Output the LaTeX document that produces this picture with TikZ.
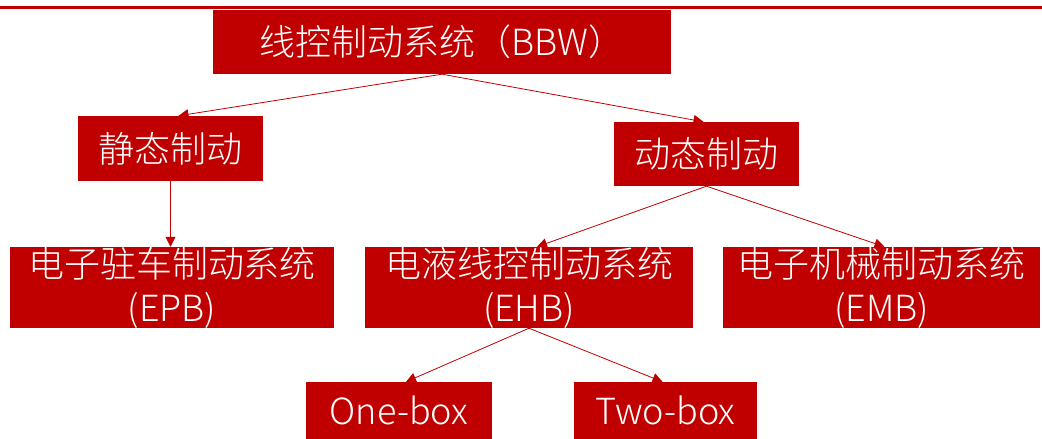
\documentclass[tikz,border=0pt]{standalone}
\usepackage{fontspec}
\setmainfont{Noto Sans CJK SC Light}
\usetikzlibrary{arrows.meta}
\definecolor{bbred}{HTML}{C00000}
\tikzset{
  box/.style={fill=bbred, text=white, inner sep=0pt, align=center,
    font=\fontsize{36}{44}\selectfont},
  conn/.style={draw=bbred, line width=0.8pt,
    -{Triangle[length=10pt,width=10pt]}},
}
\begin{document}
\begin{tikzpicture}[x=1pt,y=-1pt]
\useasboundingbox (0,0) rectangle (1042,439);
\fill[bbred] (0,6) rectangle (1042,9);
\node[box, minimum width=458pt, minimum height=64pt] (bbw) at (442,42) {线控制动系统（BBW）};
\node[box, minimum width=185pt, minimum height=65pt] (jt) at (170.5,148.5) {静态制动};
\node[box, minimum width=185pt, minimum height=64pt] (dt) at (706.5,154) {动态制动};
\node[box, minimum width=324pt, minimum height=79pt] (epb) at (172,287.5) {电子驻车制动系统\\(EPB)};
\node[box, minimum width=328pt, minimum height=79pt] (ehb) at (529,287.5) {电液线控制动系统\\(EHB)};
\node[box, minimum width=317pt, minimum height=79pt] (emb) at (881.5,287.5) {电子机械制动系统\\(EMB)};
\node[box, minimum width=186pt, minimum height=57pt] (one) at (399,410.5) {One-box};
\node[box, minimum width=183pt, minimum height=57pt] (two) at (665.5,410.5) {Two-box};
\draw[conn] (bbw.south) -- ([xshift=8pt]jt.north);
\draw[conn] (bbw.south) -- ([xshift=-3pt]dt.north);
\draw[conn] (jt.south) -- (jt.south |- epb.north);
\draw[conn] (dt.south) -- ([xshift=8pt]ehb.north);
\draw[conn] (dt.south) -- ([xshift=3pt]emb.north);
\draw[conn] (ehb.south) -- ([xshift=7pt]one.north);
\draw[conn] (ehb.south) -- ([xshift=-3pt]two.north);
\end{tikzpicture}
\end{document}
